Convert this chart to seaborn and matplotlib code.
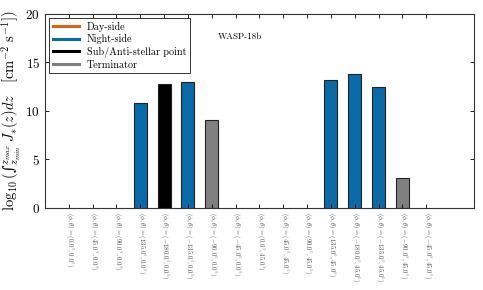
import pandas as pd
import matplotlib
matplotlib.use("Agg")
import matplotlib.pyplot as plt
from matplotlib.lines import Line2D
import seaborn as sns

# viewing geometries (phi, theta) in degrees
phi = [0.0, 45.0, 90.0, 135.0, -180.0, -135.0, -90.0, -45.0,
       0.0, 45.0, 90.0, 135.0, -180.0, -135.0, -90.0, -45.0]
theta = [0.0] * 8 + [45.0] * 8

# log10 column-integrated rate; None where nothing was plotted
values = [None, None, None, 10.8, 12.8, 13.0, 9.1, None,
          None, None, None, 13.2, 13.8, 12.5, 3.1, None]
kinds = [None, None, None, 'Night-side', 'Sub/Anti-stellar point', 'Night-side', 'Terminator', None,
         None, None, None, 'Night-side', 'Night-side', 'Night-side', 'Terminator', None]

legend_names = ['Day-side', 'Night-side', 'Sub/Anti-stellar point', 'Terminator']
colors = {'Day-side': '#e0601a', 'Night-side': '#0a6aa8',
          'Sub/Anti-stellar point': '#000000', 'Terminator': '#808080'}


def fmt(v):
    return f'{v:.1f}' + r'^{\circ}'


labels = [r'$(\phi, \theta) = (' + fmt(p) + ', ' + fmt(t) + ')$' for p, t in zip(phi, theta)]

df = pd.DataFrame({'label': labels, 'value': values, 'kind': kinds}).dropna()

plt.rcParams['font.family'] = 'serif'
plt.rcParams['font.serif'] = ['cmr10', 'DejaVu Serif']
plt.rcParams['mathtext.fontset'] = 'cm'
plt.rcParams['axes.formatter.use_mathtext'] = True

fig = plt.figure(figsize=(4.83, 2.90), dpi=100)
ax = fig.add_axes([0.093, 0.283, 0.888, 0.669])

sns.barplot(data=df, x='label', y='value', hue='kind', order=labels,
            palette=colors, dodge=False, width=0.55, edgecolor='#222222',
            linewidth=0.8, saturation=1, legend=False, ax=ax)

ax.set_xlim(-1, 17)
ax.set_ylim(0, 20)
ax.set_yticks([0, 5, 10, 15, 20])
ax.set_xlabel('')
# plain-text integral sign keeps it at text size (mathtext \int is display-sized)
ylab = (r'$\log_{10}($' + '\u222b' + r'${}_{z_{min}}^{z_{max}}\, J_{*}(z)dz\ \ \ [\mathrm{cm}^{-2}\ \mathrm{s}^{-1}])$')
ax.set_ylabel(ylab, fontsize=10.5, family='DejaVu Serif')
ax.yaxis.set_label_coords(-0.052, 0.5)
ax.set_xticks(range(len(labels)))
ax.set_xticklabels(labels, rotation=270, fontsize=4.8, color='#444444')
ax.tick_params(axis='both', direction='in', top=True, right=True, length=3, width=0.6)
ax.tick_params(axis='y', labelsize=9.5)
ax.tick_params(axis='x', pad=3)
for s in ax.spines.values():
    s.set_linewidth(0.8)
    s.set_color('#333333')

ax.text(7.2, 17.6, 'WASP-18b', fontsize=6.5, ha='center', va='center')

handles = [Line2D([0], [0], color=colors[n], lw=2.2) for n in legend_names]
leg = ax.legend(handles, legend_names, loc='upper left', fontsize=7.3, fancybox=False,
                framealpha=1, edgecolor='#333333', handlelength=2.6, handletextpad=0.8,
                borderpad=0.35, labelspacing=0.25, borderaxespad=0.4)
leg.get_frame().set_linewidth(0.7)

fig.savefig('out.png', dpi=100)
